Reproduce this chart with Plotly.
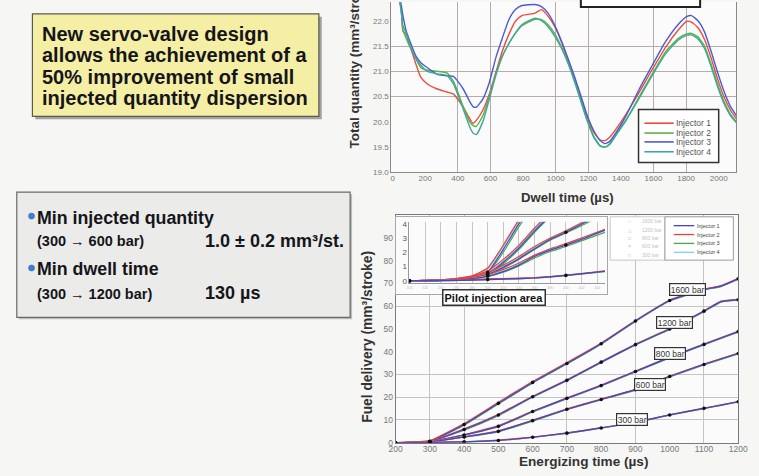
import plotly.graph_objects as go

W, H = 759, 476
FONT = "Liberation Sans, Arial, Helvetica, sans-serif"


def fx(p):
    return p / W


def fy(p):
    return 1 - p / H


# ---------------- Top chart: total quantity vs dwell time ----------------
DWELL_US = [43, 53, 63, 83, 103, 143, 173, 213, 273, 333,
            373, 433, 473, 493, 513, 553, 593, 633, 673, 713,
            753, 793, 873, 913, 953, 993, 1033, 1073, 1113, 1153,
            1193, 1233, 1273, 1303, 1333, 1373, 1433, 1513, 1593, 1673,
            1753, 1803, 1833, 1873, 1913, 1953, 1993, 2033, 2073, 2109]
QTY_INJ1 = [22.38, 22.25, 21.79, 21.73, 21.53, 21.14, 20.88, 20.75, 20.65, 20.59,
            20.55, 20.29, 20.06, 19.97, 20.03, 20.23, 20.55, 20.98, 21.40, 21.73,
            21.99, 22.10, 22.15, 22.22, 22.09, 21.89, 21.60, 21.24, 20.88, 20.49,
            20.10, 19.80, 19.64, 19.63, 19.70, 19.87, 20.16, 20.59, 21.04, 21.47,
            21.82, 21.99, 21.97, 21.86, 21.63, 21.27, 20.85, 20.49, 20.23, 20.06]
QTY_INJ2 = [22.40, 22.20, 21.82, 21.65, 21.50, 21.25, 21.07, 21.02, 21.00, 20.97,
            20.80, 20.30, 20.00, 19.93, 19.91, 20.12, 20.50, 20.95, 21.30, 21.55,
            21.75, 21.90, 22.03, 22.02, 21.92, 21.75, 21.50, 21.20, 20.85, 20.45,
            20.05, 19.72, 19.53, 19.50, 19.58, 19.78, 20.05, 20.50, 20.95, 21.38,
            21.65, 21.74, 21.75, 21.68, 21.50, 21.15, 20.75, 20.40, 20.15, 20.00]
QTY_INJ3 = [22.45, 22.30, 22.10, 21.80, 21.62, 21.30, 21.17, 21.07, 20.94, 20.91,
            20.90, 20.65, 20.40, 20.30, 20.29, 20.45, 20.78, 21.27, 21.66, 22.02,
            22.22, 22.30, 22.32, 22.28, 22.15, 21.92, 21.62, 21.28, 20.92, 20.53,
            20.13, 19.83, 19.63, 19.57, 19.62, 19.80, 20.13, 20.65, 21.12, 21.58,
            21.93, 22.08, 22.10, 22.00, 21.78, 21.40, 20.98, 20.60, 20.30, 20.12]
QTY_INJ4 = [22.40, 22.15, 21.90, 21.75, 21.55, 21.25, 21.12, 21.00, 20.95, 20.92,
            20.75, 20.25, 19.90, 19.78, 19.75, 20.00, 20.45, 20.92, 21.30, 21.55,
            21.76, 21.92, 22.05, 22.00, 21.88, 21.70, 21.47, 21.18, 20.82, 20.42,
            20.02, 19.70, 19.52, 19.50, 19.56, 19.75, 20.03, 20.47, 20.92, 21.34,
            21.62, 21.71, 21.72, 21.64, 21.45, 21.10, 20.70, 20.36, 20.12, 19.98]
DWELL_TICKS = [0, 200, 400, 600, 800, 1000, 1200, 1400, 1600, 1800, 2000]
QTY_TICKS = [19.0, 19.5, 20.0, 20.5, 21.0, 21.5, 22.0]

INJECTORS = ["Injector 1", "Injector 2", "Injector 3", "Injector 4"]
TOP_COLORS = ["#ef4b3c", "#58b447", "#4b5bd6", "#3fa89a"]

# ---------------- Bottom chart: fuel delivery vs energizing time ----------------
ENERG_US = [200, 300, 400, 500, 600, 700, 800, 900, 1000, 1100, 1150, 1200]
PRESSURES = ["1600 bar", "1200 bar", "800 bar", "600 bar", "300 bar"]
FD_1600 = [[0, 0.6, 8.0, 17.3, 26.5, 34.8, 43.5, 53.5, 62.5, 67.3, 68.8, 72.0],
           [0, 0.9, 8.4, 17.8, 26.9, 35.2, 43.8, 53.7, 62.7, 67.5, 69.0, 72.2],
           [0, 0.55, 7.7, 17.0, 26.3, 34.6, 43.3, 53.3, 62.3, 67.1, 68.6, 71.8],
           [0, 0.8, 8.2, 17.5, 26.6, 35.0, 43.6, 53.6, 62.6, 67.4, 68.9, 72.1]]
FD_1200 = [[0, 0.5, 5.8, 12.2, 20.2, 27.4, 35.4, 43.1, 50.0, 57.8, 62.0, 62.8],
           [0, 0.7, 6.1, 12.5, 20.4, 27.6, 35.6, 43.3, 50.2, 58.0, 62.2, 63.0],
           [0, 0.45, 5.5, 11.9, 20.0, 27.2, 35.2, 42.9, 49.8, 57.6, 61.8, 62.6],
           [0, 0.6, 5.9, 12.3, 20.3, 27.5, 35.5, 43.2, 50.1, 57.9, 62.1, 62.9]]
FD_800 = [[0, 0.45, 3.4, 7.2, 13.7, 19.5, 25.1, 31.3, 37.5, 43.2, 46.0, 48.8],
          [0, 0.6, 3.5, 7.5, 13.9, 19.7, 25.3, 31.5, 37.7, 43.4, 46.2, 49.0],
          [0, 0.4, 3.35, 7.0, 13.5, 19.3, 24.9, 31.1, 37.3, 43.0, 45.8, 48.6],
          [0, 0.5, 3.45, 7.3, 13.8, 19.6, 25.2, 31.4, 37.6, 43.3, 46.1, 48.9]]
FD_600 = [[0, 0.32, 2.5, 5.0, 9.7, 14.7, 19.0, 23.3, 29.1, 34.4, 36.8, 39.2],
          [0, 0.45, 2.6, 5.2, 9.9, 14.9, 19.2, 23.5, 29.3, 34.6, 37.0, 39.4],
          [0, 0.3, 2.4, 4.8, 9.5, 14.5, 18.8, 23.1, 28.9, 34.2, 36.6, 39.0],
          [0, 0.38, 2.55, 5.1, 9.8, 14.8, 19.1, 23.4, 29.2, 34.5, 36.9, 39.3]]
FD_300 = [[0, 0.09, 0.38, 1.0, 2.4, 4.2, 6.5, 8.9, 12.2, 15.1, 16.5, 18.0],
          [0, 0.14, 0.4, 1.1, 2.5, 4.3, 6.6, 9.0, 12.3, 15.2, 16.6, 18.1],
          [0, 0.08, 0.37, 0.95, 2.35, 4.1, 6.4, 8.8, 12.1, 15.0, 16.4, 17.9],
          [0, 0.1, 0.39, 1.05, 2.45, 4.25, 6.55, 8.95, 12.25, 15.15, 16.55, 18.05]]
ENERG_TICKS = [200, 300, 400, 500, 600, 700, 800, 900, 1000, 1100, 1200]
FD_TICKS = [0, 10, 20, 30, 40, 50, 60, 70, 80, 90]

# ---------------- Inset: pilot injection area ----------------
PILOT_US = [200, 250, 280, 300, 320, 340, 360, 380, 400, 425, 450]
PI_1600 = [[0, 0.05, 0.2, 0.6, 2.2, 4.0, 5.5, 6.8, 8.0, 10.0, 12.0],
           [0, 0.1, 0.35, 0.9, 2.5, 4.3, 5.8, 7.1, 8.4, 10.4, 12.4],
           [0, 0.05, 0.2, 0.55, 2.0, 3.8, 5.3, 6.6, 7.7, 9.8, 11.8],
           [0, 0.08, 0.3, 0.8, 2.4, 4.2, 5.7, 7.0, 8.2, 10.2, 12.2]]
PI_1200 = [[0, 0.05, 0.2, 0.5, 1.3, 2.3, 3.5, 4.6, 5.8, 7.5, 9.2],
           [0, 0.1, 0.3, 0.7, 1.5, 2.5, 3.7, 4.8, 6.0, 7.7, 9.4],
           [0, 0.05, 0.2, 0.45, 1.2, 2.2, 3.4, 4.5, 5.6, 7.3, 9.0],
           [0, 0.08, 0.25, 0.6, 1.4, 2.4, 3.6, 4.7, 5.9, 7.6, 9.3]]
PI_800 = [[0, 0.05, 0.2, 0.45, 0.95, 1.55, 2.25, 2.9, 3.4, 4.1, 4.8],
          [0, 0.1, 0.3, 0.6, 1.1, 1.7, 2.4, 3.0, 3.5, 4.2, 4.9],
          [0, 0.05, 0.2, 0.4, 0.9, 1.5, 2.2, 2.85, 3.35, 4.0, 4.7],
          [0, 0.08, 0.25, 0.5, 1.0, 1.6, 2.3, 2.95, 3.45, 4.15, 4.85]]
PI_600 = [[0, 0.05, 0.15, 0.32, 0.65, 1.1, 1.7, 2.15, 2.5, 3.0, 3.55],
          [0, 0.08, 0.25, 0.45, 0.8, 1.25, 1.8, 2.25, 2.6, 3.1, 3.6],
          [0, 0.05, 0.15, 0.3, 0.6, 1.05, 1.6, 2.05, 2.4, 2.9, 3.4],
          [0, 0.06, 0.2, 0.38, 0.7, 1.15, 1.75, 2.2, 2.55, 3.05, 3.5]]
PI_300 = [[0, 0.02, 0.05, 0.09, 0.12, 0.15, 0.2, 0.28, 0.38, 0.52, 0.67],
          [0, 0.04, 0.1, 0.14, 0.16, 0.19, 0.23, 0.3, 0.4, 0.54, 0.7],
          [0, 0.02, 0.05, 0.08, 0.11, 0.14, 0.19, 0.27, 0.37, 0.5, 0.65],
          [0, 0.03, 0.07, 0.1, 0.13, 0.16, 0.21, 0.29, 0.39, 0.53, 0.68]]
PILOT_TICKS = [0, 1, 2, 3, 4]

BOT_COLORS = ["#4545c6", "#e8403a", "#47a847", "#7ccff0"]
DRAW_ORDER = [2, 3, 1, 0]  # green, cyan, red, blue on top

fig = go.Figure()

# top chart traces
for vals, color, name in zip([QTY_INJ1, QTY_INJ2, QTY_INJ3, QTY_INJ4], TOP_COLORS, INJECTORS):
    fig.add_trace(go.Scatter(x=DWELL_US, y=vals, mode="lines", name=name,
                             line=dict(color=color, width=1.4, shape="spline", smoothing=0.5),
                             xaxis="x", yaxis="y", showlegend=False))

# bottom chart traces
main_sets = [FD_1600, FD_1200, FD_800, FD_600, FD_300]
for series in main_sets:
    for i in DRAW_ORDER:
        fig.add_trace(go.Scatter(x=ENERG_US, y=series[i], mode="lines",
                                 line=dict(color=BOT_COLORS[i], width=1.2, shape="spline", smoothing=0.4),
                                 xaxis="x2", yaxis="y2", showlegend=False))
mx, my = [], []
for series in main_sets:
    for xv, yv in zip(ENERG_US, series[0]):
        if xv % 100 == 0:
            mx.append(xv)
            my.append(yv)
fig.add_trace(go.Scatter(x=mx, y=my, mode="markers", marker=dict(color="#111", size=3.6),
                         xaxis="x2", yaxis="y2", showlegend=False))

# empty frame subplot for the inset's outer box
fig.add_trace(go.Scatter(x=[], y=[], xaxis="x3", yaxis="y3", showlegend=False))

# inset traces
pilot_sets = [PI_1600, PI_1200, PI_800, PI_600, PI_300]
for series in pilot_sets:
    for i in DRAW_ORDER:
        fig.add_trace(go.Scatter(x=PILOT_US, y=series[i], mode="lines",
                                 line=dict(color=BOT_COLORS[i], width=1.2, shape="spline", smoothing=0.4),
                                 xaxis="x4", yaxis="y4", showlegend=False))
px_, py_ = [], []
for series in pilot_sets:
    for xv, yv in zip(PILOT_US, series[0]):
        if xv % 100 == 0 and yv <= 4:
            px_.append(xv)
            py_.append(yv)
fig.add_trace(go.Scatter(x=px_, y=py_, mode="markers", marker=dict(color="#111", size=3.6),
                         xaxis="x4", yaxis="y4", showlegend=False))

TICKF = dict(family=FONT, size=8, color="#777")
GRID_TOP = "#b9aca8"
GRID_BOT = "#c4c4c4"

fig.update_layout(
    width=W, height=476, autosize=False,
    margin=dict(l=0, r=0, t=0, b=0),
    paper_bgcolor="#f6f6f5", plot_bgcolor="#fbfbfb",
    font=dict(family=FONT),
    hovermode=False,
    xaxis=dict(domain=[fx(393), fx(746)], range=[-9, 2108], anchor="y",
               tickvals=DWELL_TICKS, showgrid=False, zeroline=False,
               showline=True, linecolor="#8a8a8a", linewidth=1, ticks="",
               tickfont=TICKF, ticklabelstandoff=-2,
               minor=dict(tickvals=[400, 600, 1000, 1200, 1600, 1800], showgrid=True,
                          gridcolor=GRID_TOP, gridwidth=1, ticks="")),
    yaxis=dict(domain=[fy(173), 1], range=[19.0, 22.37], anchor="x",
               tickvals=QTY_TICKS, tickformat=".1f", showgrid=False, zeroline=False,
               showline=True, mirror=True, linecolor="#8a8a8a", linewidth=1, ticks="",
               tickfont=TICKF,
               minor=dict(tickvals=[20.5, 21.0, 21.5], showgrid=True,
                          gridcolor=GRID_TOP, gridwidth=1, ticks="")),
    xaxis2=dict(domain=[fx(397.5), fx(748)], range=[200, 1200], anchor="y2",
                tickvals=ENERG_TICKS, showgrid=False, zeroline=False,
                showline=True, mirror=True, linecolor="#7a7a7a", linewidth=1, ticks="",
                tickfont=dict(family=FONT, size=8.5, color="#777"), ticklabelstandoff=-2,
                minor=dict(tickvals=[300, 400, 700, 900, 1100], showgrid=True,
                           gridcolor=GRID_BOT, gridwidth=1, ticks="")),
    yaxis2=dict(domain=[fy(447.3), fy(216.3)], range=[0, 100], anchor="x2",
                tickvals=FD_TICKS, showgrid=False, zeroline=False,
                showline=True, mirror=True, linecolor="#7a7a7a", linewidth=1, ticks="",
                tickfont=dict(family=FONT, size=8.5, color="#777"),
                minor=dict(tickvals=[10, 20, 30, 60], showgrid=True,
                           gridcolor=GRID_BOT, gridwidth=1, ticks="")),
    xaxis3=dict(domain=[fx(398), fx(614)], range=[0, 1], anchor="y3",
                showticklabels=False, showgrid=False, zeroline=False, ticks="",
                showline=True, mirror=True, linecolor="#a8a8a8", linewidth=1),
    yaxis3=dict(domain=[fy(296), fy(218)], range=[0, 1], anchor="x3",
                showticklabels=False, showgrid=False, zeroline=False, ticks="",
                showline=True, mirror=True, linecolor="#a8a8a8", linewidth=1),
    xaxis4=dict(domain=[fx(411.7), fx(611.7)], range=[200, 450], anchor="y4",
                tick0=200, dtick=20, showgrid=True, gridcolor="#c6c6c6", zeroline=False,
                showline=True, linecolor="#999", linewidth=1, ticks="",
                tickfont=dict(family=FONT, size=3.5, color="#bbb")),
    yaxis4=dict(domain=[fy(285.5), fy(223)], range=[-0.172, 4.138], anchor="x4",
                tickvals=PILOT_TICKS, showgrid=False, zeroline=False,
                showline=True, linecolor="#999", linewidth=1, ticks="",
                tickfont=dict(family=FONT, size=8, color="#555")),
)

shapes = []


def rect(x0, y0, x1, y1, fill, line_color=None, lw=0):
    shapes.append(dict(type="rect", xref="paper", yref="paper",
                       x0=fx(x0), x1=fx(x1), y0=fy(y1), y1=fy(y0),
                       fillcolor=fill, layer="above",
                       line=dict(color=line_color or fill, width=lw)))


def hline(x0, x1, y, color, lw):
    shapes.append(dict(type="line", xref="paper", yref="paper",
                       x0=fx(x0), x1=fx(x1), y0=fy(y), y1=fy(y), layer="above",
                       line=dict(color=color, width=lw)))


# yellow message box with shadow
rect(29, 15, 322, 119, "rgba(60,60,60,0.45)")
rect(26, 12, 319, 116, "#f5efa6", "#5a5a50", 1.2)
# gray info box with shadow
rect(12, 195, 353, 322, "rgba(80,80,80,0.35)")
rect(10, 193, 351, 320, "#ebebea", "#6a6a6a", 1.2)
for cy in (217.3, 270.0):
    shapes.append(dict(type="circle", xref="paper", yref="paper",
                       x0=fx(22), x1=fx(28.2), y0=fy(cy + 3.1), y1=fy(cy - 3.1),
                       fillcolor="#3b7fd6", line=dict(color="#2b66b8", width=0.5), layer="above"))

# partial label box at top of upper chart
rect(587, -12, 709, 5, "#ffffff", "#222", 2)

# upper chart legend
rect(646, 109, 728, 163, "#ffffff", "#333", 1.5)
for k, yy in enumerate([123, 133, 142, 152]):
    hline(652, 682, yy, TOP_COLORS[k], 1.6)

# inset legends
rect(617, 218, 673, 262, "#ffffff", "#c8c8c8", 1)
rect(673, 218, 743, 262, "#ffffff", "#9a9a9a", 1)
for k, yy in enumerate([227, 236, 245, 254]):
    hline(682, 703, yy, BOT_COLORS[k], 1.3)

fig.update_layout(shapes=shapes)

ann = []


def text(x, y, s, size, color="#111", bold=False, anchor="left", angle=0):
    ann.append(dict(xref="paper", yref="paper", x=fx(x), y=fy(y),
                    text=f"<b>{s}</b>" if bold else s, showarrow=False,
                    xanchor=anchor, yanchor="middle", textangle=angle,
                    borderpad=0, borderwidth=0,
                    font=dict(family=FONT, size=size, color=color)))


for s, yy in zip(["New servo-valve design", "allows the achievement of a",
                  "50% improvement of small", "injected quantity dispersion"],
                 [32.5, 54.2, 75.9, 97.6]):
    text(35.5, yy, s, 20, "#15151a", True)

text(30.4, 218.8, "Min injected quantity", 17.8, "#15151a", True)
text(31, 242.7, "(300 → 600 bar)", 14.5, "#15151a", True)
text(202.5, 242.1, "1.0 ± 0.2 mm³/st.", 18, "#15151a", True)
text(30.4, 271.4, "Min dwell time", 17.8, "#15151a", True)
text(31, 296.6, "(300 → 1200 bar)", 14.5, "#15151a", True)
text(202.5, 295.8, "130 µs", 18, "#15151a", True)

# axis titles
text(355.3, 61, "Total quantity (mm³/stroke)", 13.5, "#333", True, "center", -90)
text(573, 198, "Dwell time (µs)", 13.2, "#333", True, "center")
text(368, 340, "Fuel delivery (mm³/stroke)", 13.8, "#333", True, "center", -90)
text(590, 466, "Energizing time (µs)", 13.6, "#333", True, "center")

# legends text
for k, yy in enumerate([123, 133, 142, 152]):
    text(684, yy, INJECTORS[k], 8.5, "#555")
for k, yy in enumerate([227, 236, 245, 254]):
    text(706, yy, INJECTORS[k], 5.5, "#444")
for s, yy, sym in zip(PRESSURES, [222, 231, 240, 248, 257], ["○", "△", "□", "×", "☆"]):
    text(637, yy, sym, 5, "#bbb", anchor="center")
    text(650, yy, s, 5, "#c4c4c4")

# pilot injection label
ann.append(dict(xref="paper", yref="paper", x=fx(498.5), y=fy(300),
                text="<b>Pilot injection area</b>", showarrow=False,
                xanchor="center", yanchor="middle", bgcolor="#ffffff",
                bordercolor="#333", borderwidth=1.5, borderpad=1,
                font=dict(family=FONT, size=11, color="#111")))

# pressure labels on the curves
for s, xv, yv in zip(PRESSURES, [1051, 1014, 1000, 943, 889], [67.5, 52.8, 39.0, 25.6, 10.0]):
    ann.append(dict(xref="x2", yref="y2", x=xv, y=yv, text=s, showarrow=False,
                    xanchor="center", yanchor="middle", bgcolor="#ffffff",
                    bordercolor="#333", borderwidth=1.2, borderpad=0.5,
                    font=dict(family=FONT, size=8.5, color="#333")))

fig.update_layout(annotations=ann)
fig.write_html("out.html", config={"displayModeBar": False, "staticPlot": True},
               post_script="document.body.style.margin='0';document.body.style.overflow='hidden';")
